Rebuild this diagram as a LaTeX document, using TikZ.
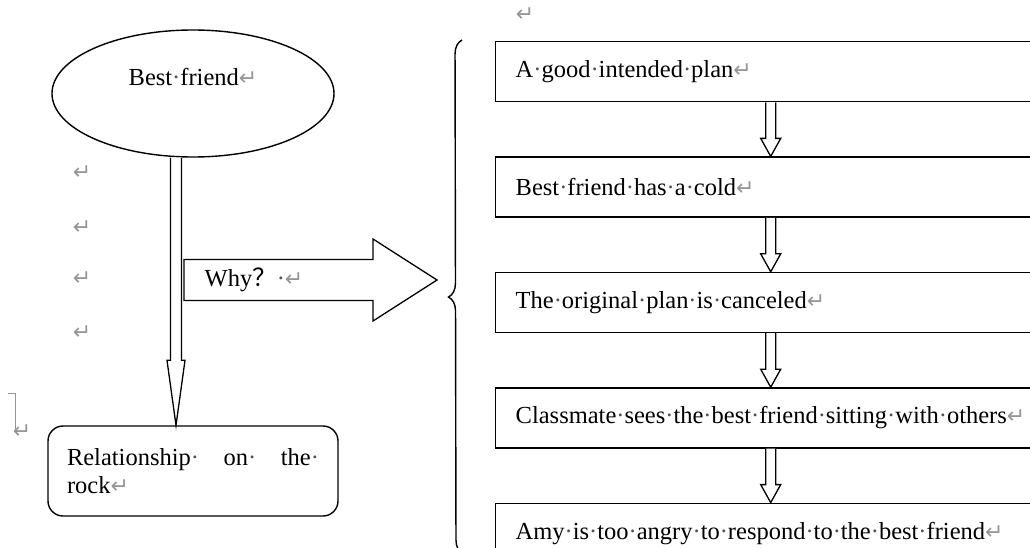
\documentclass[tikz,border=0pt]{standalone}
\usepackage{fontspec}
\setmainfont{Liberation Serif}
\newfontfamily\markfont{DejaVu Sans}
\newfontfamily\cjkfont{Noto Sans CJK SC}
\usetikzlibrary{positioning,shapes.geometric,calc,decorations.pathreplacing}
\definecolor{markgray}{RGB}{150,150,150}
\definecolor{dotgray}{RGB}{80,80,80}
\newcommand{\pmark}{{\markfont\fontsize{22}{22}\selectfont\color{markgray}↵}}
\newcommand{\spmark}{{\color{dotgray}·}}
% hollow block arrow pointing down: start, end, shaft half width, head half width, head length
\newcommand{\downblock}[5]{%
  \draw[blockline] let \p1=#1, \p2=#2 in
    (\x1-#3,\y1) -- (\x1-#3,\y2+#5) -- (\x1-#4,\y2+#5) -- (\x1,\y2)
    -- (\x1+#4,\y2+#5) -- (\x1+#3,\y2+#5) -- (\x1+#3,\y1);
}
\begin{document}
\begin{tikzpicture}[x=1pt, y=-1pt, line width=1.4pt, font=\fontsize{24.5}{28}\selectfont,
    stepbox/.style={draw, rectangle, minimum height=60pt, text width=510pt, inner xsep=20pt, align=left},
    blockline/.style={draw, fill=white, line width=1.3pt}]
  \useasboundingbox (0,0) rectangle (1030,548);

  % left side
  \node[draw, ellipse, minimum width=282pt, minimum height=127pt, inner sep=0pt] (best) at (193,93.5) {};
  \node (bestlabel) at ([yshift=16.5pt]best.center) {Best\spmark friend\pmark};
  \node[draw, rounded corners=15pt, minimum width=290pt, minimum height=90pt, inner xsep=19pt, align=left] (rel) at (193,471)
    {\makebox[252pt][s]{Relationship\spmark\hfill on\spmark\hfill the\spmark}\\rock\pmark};
  \downblock{([xshift=-17pt]best.south)}{([xshift=-17pt]rel.north)}{5.5pt}{9pt}{65pt}

  % why arrow
  \coordinate (whystart) at (184,280);
  \coordinate (whytip) at (437,280);
  \draw[blockline] let \p1=(whystart), \p2=(whytip) in
    (\x1,\y1+20.5pt) -- (\x2-64pt,\y1+20.5pt) -- (\x2-64pt,\y1+41pt) -- (\x2,\y2)
    -- (\x2-64pt,\y1-41pt) -- (\x2-64pt,\y1-20.5pt) -- (\x1,\y1-20.5pt) -- cycle;
  \node[anchor=west, inner sep=0pt] (why) at (204,280) {Why{\cjkfont ？}\spmark\pmark};

  % brace
  \coordinate (bracetop) at (462,40);
  \coordinate (bracebot) at (463,554);
  \draw[decorate, decoration={brace, amplitude=14pt}] (bracebot) -- (bracetop);

  % steps
  \node[stepbox, anchor=north west] (b1) at (495,41) {A\spmark good\spmark intended\spmark plan\pmark};
  \node[stepbox, below=54pt of b1] (b2) {Best\spmark friend\spmark has\spmark a\spmark cold\pmark};
  \node[stepbox, below=54pt of b2] (b3) {The\spmark original\spmark plan\spmark is\spmark canceled\pmark};
  \node[stepbox, below=54pt of b3] (b4) {Classmate\spmark sees\spmark the\spmark best\spmark friend\spmark sitting\spmark with\spmark others\pmark};
  \node[stepbox, below=54pt of b4] (b5) {Amy\spmark is\spmark too\spmark angry\spmark to\spmark respond\spmark to\spmark the\spmark best\spmark friend\pmark};
  \downblock{(b1.south)}{(b2.north)}{5pt}{10pt}{18pt}
  \downblock{(b2.south)}{(b3.north)}{5pt}{10pt}{18pt}
  \downblock{(b3.south)}{(b4.north)}{5pt}{10pt}{18pt}
  \downblock{(b4.south)}{(b5.north)}{5pt}{10pt}{18pt}

  % paragraph marks
  \node (m1) at (82,173) {\pmark};
  \node (m2) at (82,228) {\pmark};
  \node (m3) at (82,279) {\pmark};
  \node (m4) at (82,333) {\pmark};
  \node (m5) at (525,15) {\pmark};
  \draw[markgray, line width=0.8pt] (8,393) -- (15,393) -- (15,430);
  \node (m6) at (22,432) {\pmark};
\end{tikzpicture}
\end{document}
